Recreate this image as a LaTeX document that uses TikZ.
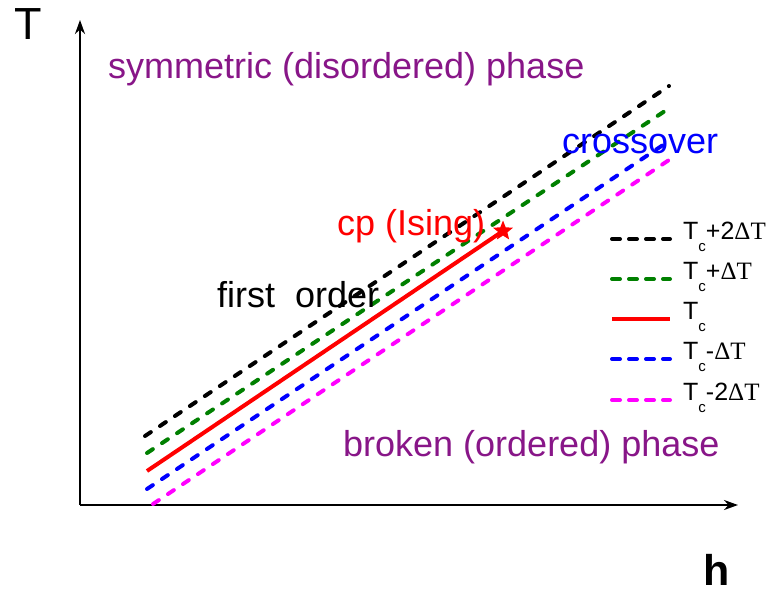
\documentclass[tikz,border=0pt]{standalone}
\usepackage{fontspec}
\setmainfont{Liberation Sans}
\newfontfamily\serifd{Liberation Serif}
\usetikzlibrary{shapes.geometric,arrows.meta}
\definecolor{phasepurple}{RGB}{136,22,136}
\definecolor{dkgreen}{RGB}{0,128,0}
\definecolor{magentaL}{RGB}{255,0,255}
\newcommand{\bigtxt}{\fontsize{36}{40}\selectfont}
\newcommand{\legtxt}{\fontsize{25}{28}\selectfont}
\newcommand{\Tc}{T\raisebox{-0.5em}{\fontsize{15}{16}\selectfont c}}
\begin{document}
\begin{tikzpicture}[x=1pt,y=-1pt,
  axis/.style={line width=2.5pt,-{Stealth[length=14pt,width=10pt]}},
  dline/.style={line width=4pt,line cap=round,dash pattern=on 7pt off 11pt},
  legd/.style={line width=4pt,line cap=round,dash pattern=on 8pt off 9pt},
  sline/.style={line width=4pt},
  lbl/.style={inner sep=0pt,anchor=base west},
  leg/.style={inner sep=0pt,anchor=west,font=\legtxt}]
\useasboundingbox (0,0) rectangle (767,594);
% axes
\coordinate (O) at (80,505);
\coordinate (ytop) at (80,20);
\coordinate (xend) at (738,505);
\draw[axis] (O) -- (ytop);
\draw[axis] (O) -- (xend);
\node[inner sep=0pt,font=\fontsize{45}{50}\selectfont] (Tlab) at (28,24) {T};
\node[inner sep=0pt,font=\fontsize{43}{48}\selectfont\bfseries] (hlab) at (717,570) {h};
% lines
\coordinate (k1) at (145,436); \coordinate (k2) at (669,86);
\coordinate (g1) at (147,453); \coordinate (g2) at (671,107);
\coordinate (r1) at (147,471);
\coordinate (b1) at (147,489); \coordinate (b2) at (666,143);
\coordinate (m1) at (153,504); \coordinate (m2) at (669,160);
\draw[dline,black] (k1) -- (k2);
\draw[dline,dkgreen] (g1) -- (g2);
\draw[dline,blue] (b1) -- (b2);
\draw[dline,magentaL] (m1) -- (m2);
\node[star,star points=5,star point ratio=2.3,fill=red,inner sep=0pt,minimum size=21pt] (cp) at (503,231) {};
\draw[sline,red] (r1) -- (cp.center);
% texts
\node[lbl,text=phasepurple,font=\bigtxt] (sym) at (108,78) {symmetric (disordered) phase};
\node[lbl,text=blue,font=\bigtxt] (cross) at (562,153) {crossover};
\node[lbl,text=red,font=\bigtxt] (cplab) at (337,235) {cp (Ising)};
\node[lbl,text=black,font=\bigtxt] (fo) at (217,307) {first\ \ order};
\node[lbl,text=phasepurple,font=\bigtxt] (brk) at (343,456) {broken (ordered) phase};
% legend
\foreach \nm/\yy/\col/\sty/\txt in {
  l1/239/black/legd/{\Tc+2{\serifd ΔT}},
  l2/279/dkgreen/legd/{\Tc+{\serifd ΔT}},
  l3/319/red/sline/{\Tc},
  l4/359/blue/legd/{\Tc-{\serifd ΔT}},
  l5/400/magentaL/legd/{\Tc-2{\serifd ΔT}}}{
  \coordinate (\nm a) at (612,\yy);
  \coordinate (\nm b) at (670,\yy);
  \draw[\sty,\col] (\nm a) -- (\nm b);
  \node[leg] (\nm t) at (683,\yy-2) {\txt};
}
\end{tikzpicture}
\end{document}
